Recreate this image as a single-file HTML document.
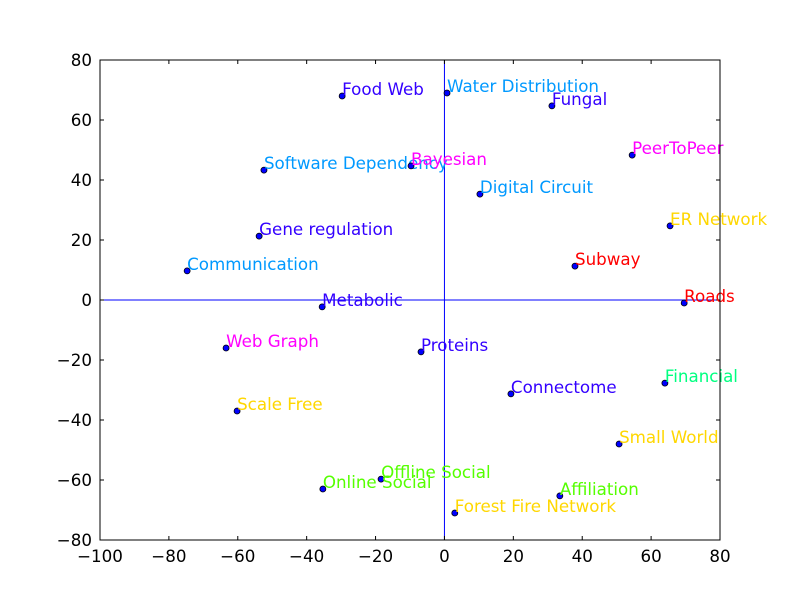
<!DOCTYPE html>
<html><head><meta charset="utf-8"><style>
body{margin:0;background:#fff}
svg{font-family:"DejaVu Sans","Liberation Sans",sans-serif}
</style></head><body>
<svg id="chart" width="800" height="600"></svg>
<script>
const labels=["Food Web","Water Distribution","Fungal","PeerToPeer","Software Dependency","Bayesian","Digital Circuit","ER Network","Gene regulation","Communication","Subway","Roads","Metabolic","Web Graph","Proteins","Financial","Connectome","Scale Free","Small World","Offline Social","Online Social","Affiliation","Forest Fire Network"];
const xs=[-29.7,0.75,31.2,54.5,-52.4,-9.7,10.3,65.5,-53.8,-74.7,37.9,69.6,-35.5,-63.4,-6.8,64,19.3,-60.2,50.7,-18.4,-35.3,33.5,3];
const ys=[68,69,64.7,48.3,43.3,44.7,35.3,24.7,21.3,9.7,11.3,-1,-2.3,-16,-17.3,-27.7,-31.3,-37,-48,-59.7,-63,-65.3,-71];
const groups=["bio","infra","bio","info","infra","info","infra","synth","bio","infra","transport","transport","bio","info","bio","econ","bio","synth","synth","social","social","social","synth"];
const groupColors={bio:"#3300ff",infra:"#0099ff",info:"#ff00ff",synth:"#ffd700",transport:"#ff0000",econ:"#00ff80",social:"#55ff00"};
const xTicks=[-100,-80,-60,-40,-20,0,20,40,60,80];
const yTicks=[-80,-60,-40,-20,0,20,40,60,80];
const L=100,R=720,T=60,B=540,xMin=-100,xMax=80,yMin=-80,yMax=80;
const FS=16.7;
const sx=v=>L+(v-xMin)/(xMax-xMin)*(R-L);
const sy=v=>B-(v-yMin)/(yMax-yMin)*(B-T);
const svg=document.getElementById('chart');
const NS="http://www.w3.org/2000/svg";
function mk(t,a){const e=document.createElementNS(NS,t);for(const k in a)e.setAttribute(k,a[k]);svg.appendChild(e);return e;}
let e;
e=mk('line',{x1:sx(0),x2:sx(0),y1:T,y2:B,stroke:"#0000ff","stroke-width":1});


e=mk('line',{x1:L,x2:R,y1:sy(0),y2:sy(0),stroke:"#0000ff","stroke-width":1});


xTicks.forEach(v=>{
 const x=sx(v);
 e=mk('line',{x1:x,x2:x,y1:B,y2:B-4,stroke:"#000"});
 
 
 e=mk('line',{x1:x,x2:x,y1:T,y2:T+4,stroke:"#000"});
 
 
 e=mk('text',{x:x,y:B+22,"text-anchor":"middle","font-size":FS});
 e.textContent=(v<0?"\u2212"+(-v):v);
 
 
});
yTicks.forEach(v=>{
 const y=sy(v);
 e=mk('line',{x1:L,x2:L+4,y1:y,y2:y,stroke:"#000"});
 
 
 e=mk('line',{x1:R,x2:R-4,y1:y,y2:y,stroke:"#000"});
 
 
 e=mk('text',{x:L-8,y:y+6,"text-anchor":"end","font-size":FS});
 e.textContent=(v<0?"\u2212"+(-v):v);
 
 
});
labels.forEach((lab,i)=>{
 const x=sx(xs[i]),y=sy(ys[i]);
 e=mk('circle',{cx:x,cy:y,r:3,fill:"#0000ff",stroke:"#000","stroke-width":0.8});
 
 
 e=mk('text',{x:x,y:y-1,"font-size":FS,fill:groupColors[groups[i]]});
 e.textContent=lab;
 
 
});
e=mk('rect',{x:L,y:T,width:R-L,height:B-T,fill:"none",stroke:"#000","stroke-width":1});


</script>
</body></html>
